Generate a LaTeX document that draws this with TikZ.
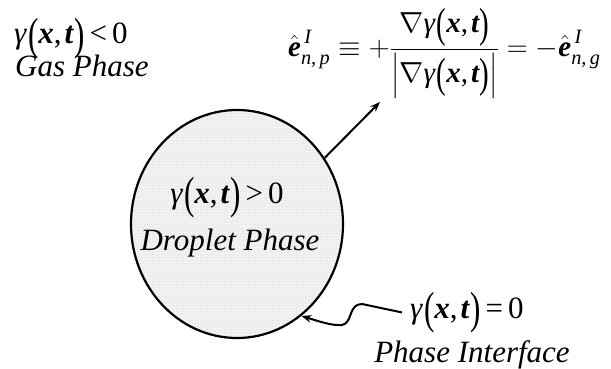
\documentclass[tikz,border=0pt]{standalone}
\usepackage{fix-cm}
\usepackage{amsmath}
\usepackage{graphicx}
\usepackage{fontspec}
\setmainfont{Liberation Serif}
\usetikzlibrary{arrows.meta,shapes.geometric,patterns}

\newcommand{\lpar}{\raisebox{-0.17em}{\scalebox{1}[1.45]{(}}}
\newcommand{\rpar}{\raisebox{-0.17em}{\scalebox{1}[1.45]{)}}}
\newcommand{\bx}{\textbf{\textit{x}}}
\newcommand{\bt}{\textbf{\textit{t}}}
\newcommand{\gxt}{\textit{γ}\kern1pt\lpar\bx,\kern3pt\bt\rpar}
\newcommand{\ehat}{\hat{\text{\bfseries\itshape e}}}

\begin{document}
\begin{tikzpicture}[x=1pt,y=-1pt,
  lab/.style={font=\fontsize{31}{36}\selectfont, inner sep=0pt},
  arr/.style={line width=2pt, -{Stealth[length=10pt,width=7.5pt]}}]
\useasboundingbox (0,0) rectangle (611,369);
\node[draw, ellipse, line width=2.2pt, minimum width=212pt, minimum height=228pt,
      preaction={fill=gray!10}, pattern=dots, pattern color=gray!45] (drop) at (237,224) {};
\node[lab, anchor=base west] (gneg) at (14,44) {\gxt\,<\,0};
\node[lab, anchor=base west] (gas) at (15,77) {\itshape Gas Phase};
\node[lab, anchor=base] (gpos) at (227,203) {\gxt\,>\,0};
\node[lab, anchor=base] (dphase) at (230,250) {\itshape Droplet Phase};
\node[lab, anchor=base west] (gzero) at (410,318) {\gxt\,=\,0};
\node[lab, anchor=base] (iface) at (472,362) {\itshape Phase Interface};
\node[lab, font=\fontsize{29}{34}\selectfont, anchor=base west] (eq) at (288,57)
  {$\ehat^{\,\text{\itshape I}}_{\text{\itshape n,\,p}}\equiv+\dfrac{\nabla\text{\gxt}}{\left|\nabla\text{\gxt}\right|}=-\ehat^{\,\text{\itshape I}}_{\text{\itshape n,\,g}}$};
\coordinate (tip) at (380,102);
\draw[arr] (drop.37) -- (tip);
\coordinate (w1) at (362,304);
\draw[arr] ([xshift=-8pt]gzero.west) -- (w1) .. controls (348,304) and (353,323) .. (342,325)
  .. controls (332,326) and (318,321) .. (drop.-55);
\end{tikzpicture}
\end{document}
